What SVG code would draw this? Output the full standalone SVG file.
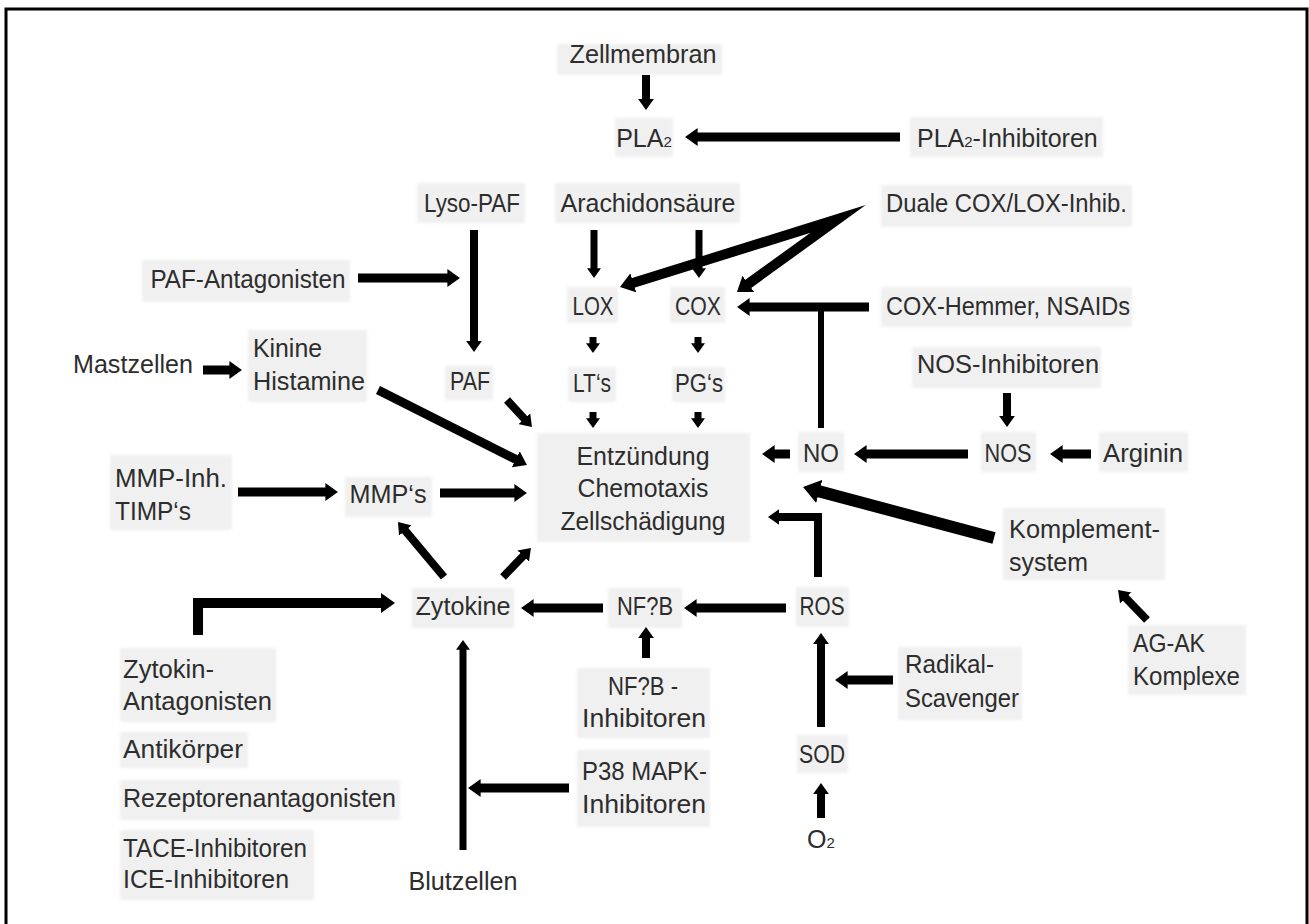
<svg xmlns="http://www.w3.org/2000/svg" width="1309" height="924" viewBox="0 0 1309 924">
<style>
.t{font-family:"Liberation Sans",Arial,sans-serif;font-size:25px;fill:#2d2d2d}
.m{text-anchor:middle}
.b{fill:#f0f0f0;filter:url(#soft)}
.c{fill:none;stroke:#000;stroke-linejoin:miter;stroke-miterlimit:10}
.a{marker-end:url(#ah)}
.s{font-size:15px}
</style>
<defs>
<filter id="soft" x="-10%" y="-20%" width="120%" height="140%"><feGaussianBlur stdDeviation="1.5"/></filter>
<marker id="ah" viewBox="0 0 10 10" refX="4" refY="5" markerWidth="1.4" markerHeight="2" orient="auto-start-reverse" preserveAspectRatio="none" markerUnits="strokeWidth"><path d="M0,0L10,5L0,10z" fill="#000"/></marker>
</defs>
<rect width="1309" height="924" fill="#fff"/>
<path d="M6,930V9H1307V930" fill="none" stroke="#000" stroke-width="3"/>

<g id="n-zellmembran"><rect class="b" x="557" y="44" width="165" height="31"/><text class="t m" x="643" y="63" textLength="147" lengthAdjust="spacingAndGlyphs">Zellmembran</text></g>
<g id="n-pla2"><rect class="b" x="615" y="118" width="58" height="39"/><text class="t m" x="644" y="147">PLA<tspan class="s">2</tspan></text></g>
<g id="n-pla2inh"><rect class="b" x="910" y="117" width="193" height="40"/><text class="t" x="917" y="147">PLA<tspan class="s">2</tspan>-Inhibitoren</text></g>
<g id="n-lysopaf"><rect class="b" x="417" y="183" width="108" height="40"/><text class="t m" x="472" y="212" textLength="96" lengthAdjust="spacingAndGlyphs">Lyso-PAF</text></g>
<g id="n-arach"><rect class="b" x="555" y="183" width="185" height="40"/><text class="t m" x="648" y="212" textLength="175" lengthAdjust="spacingAndGlyphs">Arachidonsäure</text></g>
<g id="n-duale"><rect class="b" x="881" y="185" width="251" height="42"/><text class="t" x="886" y="212" textLength="241" lengthAdjust="spacingAndGlyphs">Duale COX/LOX-Inhib.</text></g>
<g id="n-pafant"><rect class="b" x="142" y="260" width="208" height="42"/><text class="t m" x="248" y="288" textLength="195" lengthAdjust="spacingAndGlyphs">PAF-Antagonisten</text></g>
<g id="n-lox"><rect class="b" x="567" y="287" width="51" height="36"/><text class="t m" x="593" y="315" textLength="41" lengthAdjust="spacingAndGlyphs">LOX</text></g>
<g id="n-cox"><rect class="b" x="670" y="287" width="55" height="36"/><text class="t m" x="698" y="315" textLength="46" lengthAdjust="spacingAndGlyphs">COX</text></g>
<g id="n-coxhemmer"><rect class="b" x="881" y="287" width="251" height="40"/><text class="t" x="886" y="315" textLength="244" lengthAdjust="spacingAndGlyphs">COX-Hemmer, NSAIDs</text></g>
<g id="n-mastzellen"><text class="t" x="73" y="373" textLength="120" lengthAdjust="spacingAndGlyphs">Mastzellen</text></g>
<g id="n-kinine"><rect class="b" x="248" y="330" width="119" height="72"/><text class="t" x="253" y="357" textLength="69" lengthAdjust="spacingAndGlyphs">Kinine</text><text class="t" x="253" y="390" textLength="112" lengthAdjust="spacingAndGlyphs">Histamine</text></g>
<g id="n-paf"><rect class="b" x="445" y="366" width="48" height="34"/><text class="t m" x="470" y="390" textLength="40" lengthAdjust="spacingAndGlyphs">PAF</text></g>
<g id="n-lts"><rect class="b" x="568" y="367" width="48" height="35"/><text class="t m" x="592" y="392" textLength="38" lengthAdjust="spacingAndGlyphs">LT‘s</text></g>
<g id="n-pgs"><rect class="b" x="672" y="367" width="53" height="35"/><text class="t m" x="699" y="392" textLength="48" lengthAdjust="spacingAndGlyphs">PG‘s</text></g>
<g id="n-nosinh"><rect class="b" x="912" y="347" width="189" height="41"/><text class="t" x="917" y="373" textLength="182" lengthAdjust="spacingAndGlyphs">NOS-Inhibitoren</text></g>
<g id="n-entz"><rect class="b" x="537" y="433" width="213" height="109"/><text class="t m" x="643" y="465" textLength="133" lengthAdjust="spacingAndGlyphs">Entzündung</text><text class="t m" x="643" y="497" textLength="131" lengthAdjust="spacingAndGlyphs">Chemotaxis</text><text class="t m" x="643" y="530" textLength="165" lengthAdjust="spacingAndGlyphs">Zellschädigung</text></g>
<g id="n-no"><rect class="b" x="798" y="432" width="46" height="40"/><text class="t m" x="821" y="462" textLength="36" lengthAdjust="spacingAndGlyphs">NO</text></g>
<g id="n-nos"><rect class="b" x="981" y="432" width="55" height="40"/><text class="t m" x="1008" y="462" textLength="47" lengthAdjust="spacingAndGlyphs">NOS</text></g>
<g id="n-arginin"><rect class="b" x="1099" y="432" width="89" height="40"/><text class="t" x="1103" y="462" textLength="80" lengthAdjust="spacingAndGlyphs">Arginin</text></g>
<g id="n-mmpinh"><rect class="b" x="110" y="455" width="122" height="75"/><text class="t" x="115" y="487" textLength="112" lengthAdjust="spacingAndGlyphs">MMP-Inh.</text><text class="t" x="115" y="520" textLength="76" lengthAdjust="spacingAndGlyphs">TIMP‘s</text></g>
<g id="n-mmps"><rect class="b" x="345" y="477" width="87" height="40"/><text class="t m" x="388" y="503" textLength="77" lengthAdjust="spacingAndGlyphs">MMP‘s</text></g>
<g id="n-komplement"><rect class="b" x="1003" y="508" width="162" height="72"/><text class="t" x="1009" y="538" textLength="151" lengthAdjust="spacingAndGlyphs">Komplement-</text><text class="t" x="1009" y="571" textLength="79" lengthAdjust="spacingAndGlyphs">system</text></g>
<g id="n-zytokine"><rect class="b" x="412" y="588" width="102" height="40"/><text class="t m" x="463" y="615" textLength="95" lengthAdjust="spacingAndGlyphs">Zytokine</text></g>
<g id="n-nfkb"><rect class="b" x="608" y="588" width="74" height="40"/><text class="t m" x="645" y="615" textLength="56" lengthAdjust="spacingAndGlyphs">NF?B</text></g>
<g id="n-ros"><rect class="b" x="796" y="587" width="53" height="40"/><text class="t m" x="822" y="615" textLength="45" lengthAdjust="spacingAndGlyphs">ROS</text></g>
<g id="n-agak"><rect class="b" x="1128" y="625" width="118" height="70"/><text class="t" x="1133" y="652" textLength="72" lengthAdjust="spacingAndGlyphs">AG-AK</text><text class="t" x="1133" y="685" textLength="107" lengthAdjust="spacingAndGlyphs">Komplexe</text></g>
<g id="n-zytant"><rect class="b" x="120" y="648" width="156" height="74"/><text class="t" x="123" y="678" textLength="91" lengthAdjust="spacingAndGlyphs">Zytokin-</text><text class="t" x="123" y="710" textLength="149" lengthAdjust="spacingAndGlyphs">Antagonisten</text></g>
<g id="n-nfkbinh"><rect class="b" x="577" y="668" width="133" height="70"/><text class="t m" x="643" y="695" textLength="70" lengthAdjust="spacingAndGlyphs">NF?B -</text><text class="t m" x="644" y="727" textLength="124" lengthAdjust="spacingAndGlyphs">Inhibitoren</text></g>
<g id="n-radikal"><rect class="b" x="898" y="647" width="124" height="73"/><text class="t" x="905" y="673" textLength="89" lengthAdjust="spacingAndGlyphs">Radikal-</text><text class="t" x="905" y="707" textLength="114" lengthAdjust="spacingAndGlyphs">Scavenger</text></g>
<g id="n-antikoerper"><rect class="b" x="120" y="732" width="128" height="36"/><text class="t" x="123" y="758" textLength="120" lengthAdjust="spacingAndGlyphs">Antikörper</text></g>
<g id="n-sod"><rect class="b" x="797" y="735" width="51" height="38"/><text class="t m" x="822" y="763" textLength="46" lengthAdjust="spacingAndGlyphs">SOD</text></g>
<g id="n-rezeptor"><rect class="b" x="120" y="780" width="280" height="40"/><text class="t" x="123" y="807" textLength="273" lengthAdjust="spacingAndGlyphs">Rezeptorenantagonisten</text></g>
<g id="n-p38"><rect class="b" x="577" y="750" width="133" height="77"/><text class="t" x="582" y="780" textLength="125" lengthAdjust="spacingAndGlyphs">P38 MAPK-</text><text class="t" x="582" y="813" textLength="124" lengthAdjust="spacingAndGlyphs">Inhibitoren</text></g>
<g id="n-o2"><text class="t m" x="821" y="848">O<tspan class="s">2</tspan></text></g>
<g id="n-tace"><rect class="b" x="120" y="830" width="194" height="70"/><text class="t" x="123" y="857" textLength="184" lengthAdjust="spacingAndGlyphs">TACE-Inhibitoren</text><text class="t" x="123" y="888" textLength="166" lengthAdjust="spacingAndGlyphs">ICE-Inhibitoren</text></g>
<g id="n-blutzellen"><text class="t m" x="463" y="890" textLength="109" lengthAdjust="spacingAndGlyphs">Blutzellen</text></g>

<g id="connectors">
<path class="c a" stroke-width="8" d="M646,75V103.3"/>
<path class="c a" stroke-width="9" d="M900,137H692.6"/>
<path class="c a" stroke-width="8" d="M474,230V345.3"/>
<path class="c a" stroke-width="9" d="M358,278H452.4"/>
<path class="c a" stroke-width="7" d="M594,230V272.1"/>
<path class="c a" stroke-width="7" d="M699,230V272.1"/>
<path class="c a" stroke-width="10" style="marker-start:url(#ah)" d="M628,284.5L838,219L743.8,287.1"/>
<path class="c a" stroke-width="9" d="M869,307H744.6"/>
<path class="c" stroke-width="6" d="M821,428V307"/>
<path class="c a" stroke-width="7" d="M593,337V347.1"/>
<path class="c a" stroke-width="7" d="M698,337V347.1"/>
<path class="c a" stroke-width="7" d="M593,412V422.1"/>
<path class="c a" stroke-width="7" d="M698,412V422.1"/>
<path class="c a" stroke-width="8" d="M507,400L527.4,422.1"/>
<path class="c a" stroke-width="9" d="M203,370H234.4"/>
<path class="c a" stroke-width="9" d="M378,390L520.2,461.6"/>
<path class="c a" stroke-width="9" d="M238,492H330.4"/>
<path class="c a" stroke-width="9" d="M440,493H519.4"/>
<path class="c a" stroke-width="9" d="M790,454H769.6"/>
<path class="c a" stroke-width="9" d="M968,454H861.6"/>
<path class="c a" stroke-width="9" d="M1091,454H1057.6"/>
<path class="c a" stroke-width="8" d="M1007,393V420.3"/>
<path class="c a" stroke-width="12" d="M994,538L812.8,489.6"/>
<path class="c a" stroke-width="8" d="M818,577V517H774.7"/>
<path class="c a" stroke-width="9" d="M786,608H691.6"/>
<path class="c a" stroke-width="9" d="M603,608H528.6"/>
<path class="c a" stroke-width="8" d="M646,658V633.7"/>
<path class="c a" stroke-width="8" d="M444,577L402.3,527.1"/>
<path class="c a" stroke-width="8" d="M503,577L526.3,552.8"/>
<path class="c a" stroke-width="10" d="M198,635V603H386.6"/>
<path class="c a" stroke-width="7" d="M463,850V645.9"/>
<path class="c a" stroke-width="9" d="M569,788H475.6"/>
<path class="c a" stroke-width="8" d="M821,727V639.7"/>
<path class="c a" stroke-width="8" d="M821,818V789.7"/>
<path class="c a" stroke-width="9" d="M893,680H842.6"/>
<path class="c a" stroke-width="8" d="M1147,620L1122.7,594.8"/>
</g>
</svg>
